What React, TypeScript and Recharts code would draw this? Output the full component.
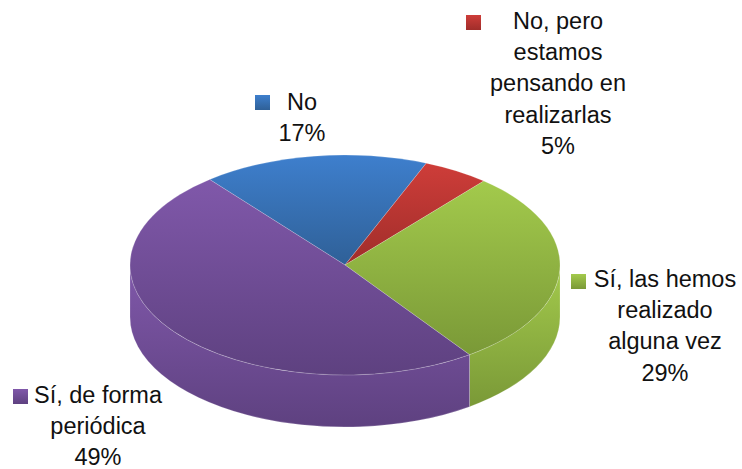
import React from 'react';
import { PieChart, Pie, Cell } from 'recharts';

const categories = ['No', 'No, pero estamos pensando en realizarlas', 'Sí, las hemos realizado alguna vez', 'Sí, de forma periódica'];
const values = [17, 5, 29, 49];
const labelLines = [
  ['No'],
  ['No, pero', 'estamos', 'pensando en', 'realizarlas'],
  ['Sí, las hemos', 'realizado', 'alguna vez'],
  ['Sí, de forma', 'periódica'],
];

// light / dark ends of the fill gradient for each slice
const lightColors = ['#3e7fcd', '#ce3d39', '#a3ca4c', '#8058aa'];
const darkColors = ['#2f6097', '#a02d2a', '#7a9937', '#5e4180'];

// label placement: text centre x, first baseline y, key box x / y
const labelPos = [
  { x: 302, y: 110, key: [255, 95] },
  { x: 558, y: 29, key: [466, 15] },
  { x: 665, y: 287, key: [571, 274] },
  { x: 98, y: 403, key: [13, 389] },
];
const lineGap = 31.2;

const SQUASH = 110 / 215;
const DEPTH = 52;
const RAD = Math.PI / 180;

const data = categories.map((name, i) => ({ name, value: values[i] }));

const pt = (cx: number, cy: number, r: number, a: number) => ({
  x: cx + r * Math.cos(a * RAD),
  y: cy - r * SQUASH * Math.sin(a * RAD),
});

// top face plus whatever part of the outer wall faces the viewer
const Slice3D = (props: any) => {
  const { cx, cy, outerRadius: r, startAngle, endAngle, index } = props;
  const lo = Math.min(startAngle, endAngle);
  const hi = Math.max(startAngle, endAngle);
  const ry = r * SQUASH;
  const s = pt(cx, cy, r, startAngle);
  const e = pt(cx, cy, r, endAngle);
  const large = hi - lo > 180 ? 1 : 0;
  const top = `M${cx},${cy} L${s.x},${s.y} A${r},${ry} 0 ${large} 1 ${e.x},${e.y} Z`;

  const walls: string[] = [];
  for (let k = -2; k <= 1; k++) {
    const a = Math.max(lo, 180 + 360 * k);
    const b = Math.min(hi, 360 + 360 * k);
    if (b <= a) continue;
    const p1 = pt(cx, cy, r, a);
    const p2 = pt(cx, cy, r, b);
    walls.push(
      `M${p1.x},${p1.y} A${r},${ry} 0 0 0 ${p2.x},${p2.y} L${p2.x},${p2.y + DEPTH} A${r},${ry} 0 0 1 ${p1.x},${p1.y + DEPTH} Z`,
    );
  }

  return (
    <g>
      {walls.map((d) => (
        <path key={d} d={d} fill={`url(#grad${index})`} stroke="#ffffff" strokeOpacity={0.3} strokeWidth={0.6} />
      ))}
      <path d={top} fill={`url(#grad${index})`} stroke="#ffffff" strokeOpacity={0.3} strokeWidth={0.6} />
    </g>
  );
};

const renderLabel = (props: any) => {
  const { index } = props;
  const pos = labelPos[index];
  const lines = [...labelLines[index], `${values[index]}%`];
  return (
    <g key={index}>
      <rect x={pos.key[0]} y={pos.key[1]} width={15} height={15} fill={`url(#grad${index})`} />
      <text
        textAnchor="middle"
        fontFamily="'Liberation Sans', Arial, sans-serif"
        fontSize={23.5}
        fill="#111111"
      >
        {lines.map((t, i) => (
          <tspan key={t} x={pos.x} y={pos.y + i * lineGap}>
            {t}
          </tspan>
        ))}
      </text>
    </g>
  );
};

export default function App() {
  return (
    <div style={{ position: 'absolute', left: 0, top: 0, width: 742, height: 469, background: '#ffffff' }}>
      <PieChart width={742} height={469} margin={{ top: 0, right: 0, bottom: 0, left: 0 }}>
        <defs>
          {lightColors.map((c, i) => (
            <linearGradient key={c} id={`grad${i}`} x1="0" y1="0" x2="0" y2="1">
              <stop offset="0%" stopColor={c} />
              <stop offset="100%" stopColor={darkColors[i]} />
            </linearGradient>
          ))}
        </defs>
        <Pie
          data={data}
          dataKey="value"
          nameKey="name"
          cx={345}
          cy={265}
          innerRadius={0}
          outerRadius={215}
          startAngle={129}
          endAngle={-231}
          stroke="none"
          isAnimationActive={false}
          shape={Slice3D}
          label={renderLabel}
          labelLine={false}
        >
          {data.map((d, i) => (
            <Cell key={d.name} fill={lightColors[i]} />
          ))}
        </Pie>
      </PieChart>
    </div>
  );
}
